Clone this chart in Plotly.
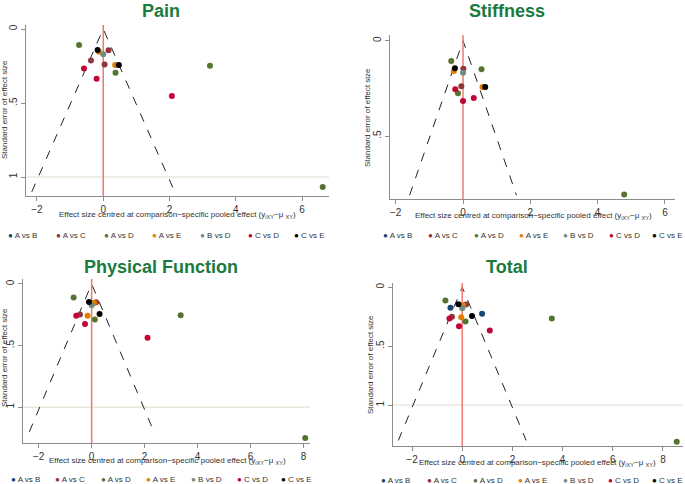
import plotly.graph_objects as go

# ---------------- data ----------------
groups = ["A vs B", "A vs C", "A vs D", "A vs E", "B vs D", "C vs D", "C vs E"]
colors = ["#1a476f", "#90353b", "#55752f", "#e37e00", "#6e8e84", "#c10534", "#000000"]

# Pain
pain_x = [-0.73, 0.37, 3.22, 6.62, -0.17, 0.47, -0.13, 0.36, 0.00, 0.16, -0.37, 0.04, -0.58, -0.20, 2.07]
pain_se = [0.108, 0.295, 0.248, 1.068, 0.142, 0.243, 0.153, 0.243, 0.171, 0.144, 0.212, 0.239, 0.266, 0.336, 0.453]
pain_g = ["A vs D"] * 4 + ["C vs E"] * 2 + ["A vs E"] * 2 + ["B vs D"] + ["A vs C"] * 3 + ["C vs D"] * 3

# Stiffness
stiff_x = [-0.35, 0.55, -0.15, 4.79, -0.24, 0.66, -0.27, 0.58, 0.01, -0.05, 0.00, -0.23, 0.32, 0.00]
stiff_se = [0.106, 0.150, 0.276, 0.807, 0.145, 0.243, 0.159, 0.243, 0.147, 0.239, 0.168, 0.255, 0.300, 0.316]
stiff_g = ["A vs D"] * 4 + ["C vs E"] * 2 + ["A vs E"] * 2 + ["A vs C"] * 2 + ["B vs D"] + ["C vs D"] * 3

# Physical Function
pf_x = [-0.68, 0.12, 3.36, 8.06, -0.10, 0.30, 0.09, -0.15, 0.17, -0.44, 0.00, -0.58, -0.25, 2.11]
pf_se = [0.110, 0.288, 0.253, 1.250, 0.146, 0.243, 0.154, 0.259, 0.148, 0.248, 0.172, 0.259, 0.324, 0.437]
pf_g = ["A vs D"] * 4 + ["C vs E"] * 2 + ["A vs E"] * 2 + ["A vs C"] * 2 + ["B vs D"] + ["C vs D"] * 3

# Total
tot_x = [-0.67, 0.13, 3.57, 8.55, -0.47, 0.79, -0.15, 0.39, 0.03, -0.04, 0.15, -0.41, 0.00, -0.51, -0.13, 1.10]
tot_se = [0.113, 0.291, 0.265, 1.310, 0.173, 0.225, 0.144, 0.243, 0.153, 0.254, 0.147, 0.251, 0.178, 0.265, 0.331, 0.367]
tot_g = ["A vs D"] * 4 + ["A vs B"] * 2 + ["C vs E"] * 2 + ["A vs E"] * 2 + ["A vs C"] * 2 + ["B vs D"] + ["C vs D"] * 3

# funnel extent (max standard error drawn)
funnel_se = [1.10, 0.81, 1.20, 1.30]
titles = ["Pain", "Stiffness", "Physical Function", "Total"]

xticks = [[-2, 0, 2, 4, 6], [-2, 0, 2, 4, 6], [-2, 0, 2, 4, 6, 8], [-2, 0, 2, 4, 6, 8]]
yticks = [[0, 0.5, 1], [0, 0.5], [0, 0.5, 1], [0, 0.5, 1]]
yticktext = [["0", ".5", "1"], ["0", ".5"], ["0", ".5", "1"], ["0", ".5", "1"]]

# ---------------- layout geometry ----------------
W, H = 685, 484
# pixel boxes: (left, right, top, bottom)
boxes = [(26, 329, 25, 196), (390, 675, 35, 199), (23, 310, 279, 443), (393, 683, 283, 446)]
xranges = [[-2.33, 6.81], [-2.17, 6.30], [-2.59, 8.24], [-2.76, 8.80]]
yranges = [[1.128, -0.027], [0.830, -0.030], [1.290, -0.040], [1.347, -0.036]]
title_pos = [(161, 11), (507, 11), (161, 267), (507, 267)]
xtitle_pos = [(177, 215), (533, 216), (167, 461), (537, 463)]
ytitle_pos = [(4, 110), (368, 118), (4, 358), (370, 365)]
legend_x = [[10, 58, 106, 154, 202, 250, 296],
            [385, 430, 476, 521, 565, 611, 654],
            [13, 57, 103, 148, 193, 239, 283],
            [383, 429, 475, 520, 565, 610, 654]]
legend_y = [235, 235, 479, 480]

panels = [(pain_x, pain_se, pain_g), (stiff_x, stiff_se, stiff_g),
          (pf_x, pf_se, pf_g), (tot_x, tot_se, tot_g)]

FONT = "Liberation Sans Narrow, Liberation Sans, Arial, sans-serif"
AXC = "#8c8c8c"

fig = go.Figure()
annotations = []
shapes = []
layout_axes = {}

for i, (xs, ses, gs) in enumerate(panels):
    k = "" if i == 0 else str(i + 1)
    xa, ya = "x" + k, "y" + k
    l, r, t, b = boxes[i]
    layout_axes["xaxis" + k] = dict(
        domain=[l / W, r / W], anchor=ya, range=xranges[i],
        showline=True, linecolor=AXC, linewidth=1, ticks="outside", ticklen=4,
        tickcolor=AXC, tickvals=xticks[i], showgrid=False, zeroline=False,
        tickfont=dict(size=10, color="#333333", family=FONT))
    layout_axes["yaxis" + k] = dict(
        domain=[1 - b / H, 1 - t / H], anchor=xa, range=yranges[i],
        showline=True, linecolor=AXC, linewidth=1, ticks="outside", ticklen=4,
        tickcolor=AXC, tickvals=yticks[i], ticktext=yticktext[i], tickangle=-90,
        showgrid=False, zeroline=False,
        tickfont=dict(size=10, color="#333333", family=FONT))

    # reference line at SE = 1
    if yranges[i][0] > 1:
        shapes.append(dict(type="line", xref=xa + " domain", yref=ya, x0=0, x1=1, y0=1, y1=1,
                           line=dict(color="#ece6dc", width=1.5), layer="below"))

    # funnel
    fs = funnel_se[i]
    fig.add_trace(go.Scatter(x=[-1.96 * fs, 0, 1.96 * fs], y=[fs, 0, fs], mode="lines",
                             line=dict(color="#222222", width=1, dash="dash"),
                             xaxis=xa, yaxis=ya, showlegend=False, hoverinfo="skip"))
    # zero line
    fig.add_trace(go.Scatter(x=[0, 0], y=[yranges[i][0], yranges[i][1]], mode="lines",
                             line=dict(color="#f07a72", width=1.5),
                             xaxis=xa, yaxis=ya, showlegend=False, hoverinfo="skip"))
    # points by group
    for g, c in zip(groups, colors):
        px = [x for x, gg in zip(xs, gs) if gg == g]
        py = [s for s, gg in zip(ses, gs) if gg == g]
        if px:
            fig.add_trace(go.Scatter(x=px, y=py, mode="markers",
                                     marker=dict(color=c, size=6),
                                     xaxis=xa, yaxis=ya, showlegend=False, name=g))

    # title
    tx, ty = title_pos[i]
    annotations.append(dict(text="<b>" + titles[i] + "</b>", x=tx / W, y=1 - ty / H,
                            xref="paper", yref="paper", showarrow=False,
                            xanchor="center", yanchor="middle",
                            font=dict(size=18, color="#1b7a3e", family="Liberation Sans, Arial")))
    # axis titles
    ax_, ay_ = xtitle_pos[i]
    annotations.append(dict(text="Effect size centred at comparison\u2212specific pooled effect (y<sub>iXY</sub>\u2212\u03bc <sub>XY</sub>)",
                            x=ax_ / W, y=1 - ay_ / H, xref="paper", yref="paper",
                            showarrow=False, xanchor="center", yanchor="middle",
                            font=dict(size=8, color="#333333", family=FONT)))
    yx, yy = ytitle_pos[i]
    annotations.append(dict(text="Standard error of effect size", textangle=-90,
                            x=yx / W, y=1 - yy / H, xref="paper", yref="paper",
                            showarrow=False, xanchor="center", yanchor="middle",
                            font=dict(size=8, color="#333333", family=FONT)))
    # legend entries
    for g, c, lx in zip(groups, colors, legend_x[i]):
        annotations.append(dict(text='<span style="color:%s">\u25cf</span> %s' % (c, g),
                                x=(lx - 4) / W, y=1 - legend_y[i] / H,
                                xref="paper", yref="paper", showarrow=False,
                                xanchor="left", yanchor="middle",
                                font=dict(size=8, color="#333333", family=FONT)))

fig.update_layout(width=W, height=H, margin=dict(l=0, r=0, t=0, b=0),
                  paper_bgcolor="white", plot_bgcolor="white",
                  showlegend=False, annotations=annotations, shapes=shapes,
                  **layout_axes)

fig.write_html("out.html", config={"displayModeBar": False},
               post_script="document.body.style.margin='0px';")
